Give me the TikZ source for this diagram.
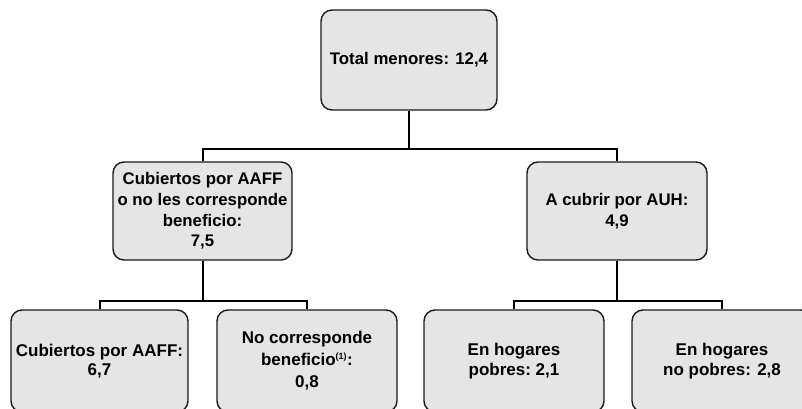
\documentclass[tikz,border=0pt]{standalone}
\usepackage{fontspec}
\setmainfont{Liberation Sans}
\definecolor{boxfill}{gray}{0.90}
\definecolor{boxline}{gray}{0.10}
\begin{document}
\begin{tikzpicture}[x=1pt,y=-1pt,
  boxnode/.style={draw=boxline, line width=1.4pt, fill=boxfill, rounded corners=11pt,
    align=center, inner sep=2pt, font=\bfseries\fontsize{16.8}{20.7}\selectfont},
  link/.style={line width=2pt, black}]
\useasboundingbox (0,0) rectangle (802,409);
\clip (0,0) rectangle (802,409);
\fill[white] (0,0) rectangle (802,409);

\node[boxnode, minimum width=176pt, minimum height=100pt] (top) at (409,60) {Total menores: 12,4};
\node[boxnode, minimum width=179pt, minimum height=98pt] (mL) at (202.5,211)
  {Cubiertos por AAFF\\o no les corresponde\\beneficio:\\7,5};
\node[boxnode, minimum width=180pt, minimum height=98pt] (mR) at (617,211)
  {A cubrir por AUH:\\4,9};

\node[boxnode, minimum width=177pt, minimum height=102pt, font=\bfseries\fontsize{17}{18.5}\selectfont] (b1) at (99.5,361)
  {Cubiertos por AAFF:\\6,7};
\node[boxnode, minimum width=180pt, minimum height=102pt, font=\bfseries\fontsize{17}{22}\selectfont] (b2) at (307,361)
  {No corresponde\\beneficio\textsuperscript{\fontsize{9}{9}\selectfont(1)}:\\0,8};
\node[boxnode, minimum width=180pt, minimum height=102pt, font=\bfseries\fontsize{17}{20}\selectfont] (b3) at (514,361)
  {En hogares\\pobres:\ 2,1};
\node[boxnode, minimum width=180pt, minimum height=102pt, font=\bfseries\fontsize{17}{20}\selectfont] (b4) at (722,361)
  {En hogares\\no pobres: 2,8};

\coordinate (j1) at (409,149);
\coordinate (j2) at (202.5,301);
\coordinate (j3) at (617,301);

\draw[link] (top.south) -- (j1);
\draw[link] (mL.north) |- (j1) -| (mR.north);
\draw[link] (mL.south) -- (j2);
\draw[link] (b1.north) |- (j2) -| (b2.north);
\draw[link] (mR.south) -- (j3);
\draw[link] (b3.north) |- (j3) -| (b4.north);
\end{tikzpicture}
\end{document}
